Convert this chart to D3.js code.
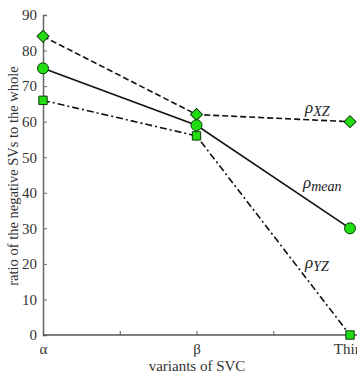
<!DOCTYPE html>
<html>
<head>
<meta charset="utf-8">
<script src="https://cdn.jsdelivr.net/npm/d3@7"></script>
<style>
body { margin: 0; background: #fff; }
text { font-family: "Liberation Serif", "DejaVu Serif", serif; }
</style>
</head>
<body>
<div id="chart"></div>
<script>
var categories = ["α", "β", "Third"];
var yTicks = [0, 10, 20, 30, 40, 50, 60, 70, 80, 90];
var xzValues = [84, 62, 60];
var meanValues = [75, 59, 30];
var yzValues = [66, 56, 0];

var svg = d3.select("#chart").append("svg")
    .attr("width", 357).attr("height", 375);

var x = d3.scaleLinear().domain([0, 2]).range([43, 350]);
var y = d3.scaleLinear().domain([0, 90]).range([335, 15]);

// axes
var yAxis = d3.axisLeft(y).tickValues(yTicks).tickSize(-4).tickPadding(6);
var gy = svg.append("g").attr("transform", "translate(43,0)").call(yAxis);
gy.select(".domain").attr("stroke", "#666").attr("stroke-width", 1.5);
gy.selectAll(".tick line").attr("stroke", "#666");
gy.selectAll(".tick text").attr("font-size", 15).attr("fill", "#333");

var xAxis = d3.axisBottom(x).tickValues([0, 0.5, 1, 1.5, 2]).tickSize(-4).tickPadding(8)
    .tickFormat(function(d) { return Number.isInteger(d) ? categories[d] : ""; });
var gx = svg.append("g").attr("transform", "translate(0,335)").call(xAxis);
gx.select(".domain").attr("stroke", "#555").attr("stroke-width", 1.5).attr("d", "M43,0H357");
gx.selectAll(".tick line").attr("stroke", "#555");
gx.selectAll(".tick text").attr("font-size", 15).attr("fill", "#333");

svg.append("text").attr("x", 197).attr("y", 371).attr("text-anchor", "middle")
   .attr("font-size", 15).attr("fill", "#333").text("variants of SVC");
svg.append("text").attr("transform", "translate(18,176) rotate(-90)").attr("text-anchor", "middle")
   .attr("font-size", 14.5).attr("fill", "#333").text("ratio of the negative SVs to the whole");

var series = [
  {values: xzValues, dash: "6,3", shape: d3.symbolSquare, size: 72, rot: 45},
  {values: meanValues, dash: null, shape: d3.symbolCircle, size: 95, rot: 0},
  {values: yzValues, dash: "7,3,2,3", shape: d3.symbolSquare, size: 70, rot: 0}
];

var line = d3.line().x(function(d, i) { return x(i); }).y(function(d) { return y(d); });

series.forEach(function(s) {
  svg.append("path").datum(s.values).attr("d", line)
     .attr("fill", "none").attr("stroke", "#111").attr("stroke-width", 1.6)
     .attr("stroke-dasharray", s.dash);
});
series.forEach(function(s) {
  svg.selectAll(null).data(s.values).enter().append("path")
     .attr("d", d3.symbol().type(s.shape).size(s.size))
     .attr("transform", function(d, i) { return "translate(" + x(i) + "," + y(d) + ") rotate(" + s.rot + ")"; })
     .attr("fill", "#22dd11").attr("stroke", "#0a3a0a").attr("stroke-width", 1);
});

// line labels
var labels = [
  {sub: "XZ", px: 305, py: 113},
  {sub: "mean", px: 303, py: 188},
  {sub: "YZ", px: 305, py: 268}
];
labels.forEach(function(l) {
  var t = svg.append("text").attr("x", l.px).attr("y", l.py)
     .attr("font-size", 17).attr("font-style", "italic").attr("fill", "#222");
  t.append("tspan").text("ρ");
  t.append("tspan").attr("dy", 3).attr("font-size", 14).text(l.sub);
});
</script>
</body>
</html>
